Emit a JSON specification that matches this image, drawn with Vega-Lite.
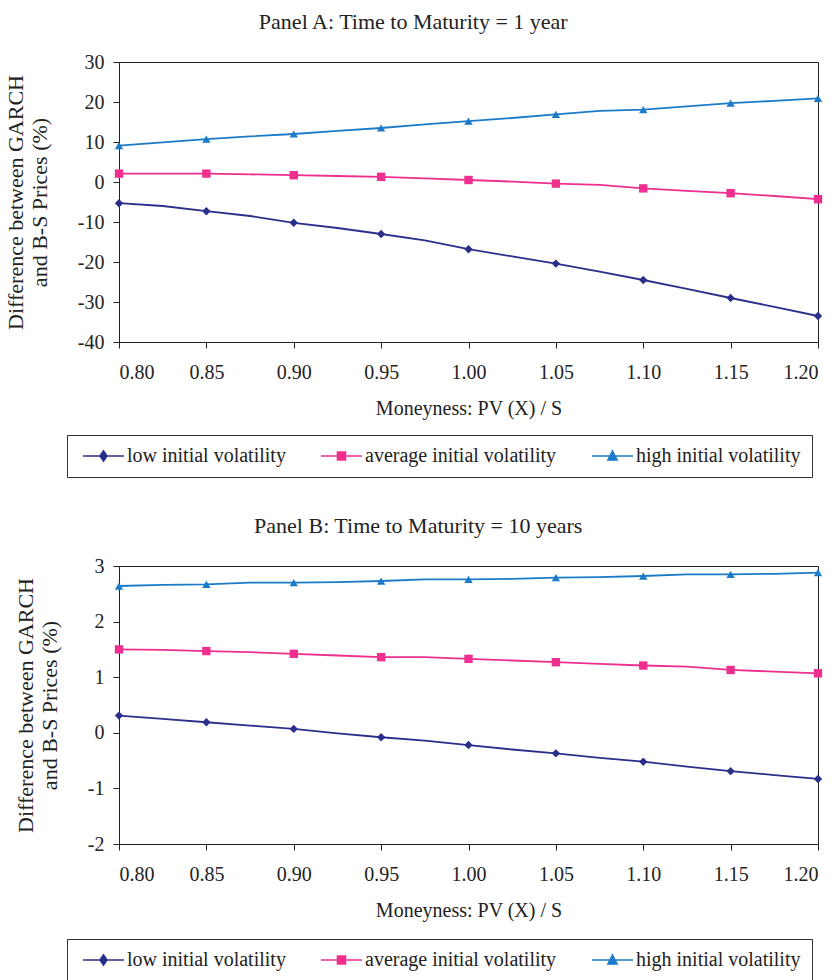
{
  "$schema": "https://vega.github.io/schema/vega-lite/v6.json",
  "background": "white",
  "padding": {"left": 3, "top": 10, "right": 0, "bottom": 0},
  "config": {
    "font": "Liberation Serif",
    "view": {"stroke": "#222", "strokeWidth": 1},
    "axis": {"grid": false, "domainColor": "#222", "tickColor": "#222", "tickSize": 6, "labelFont": "Liberation Serif", "labelFontSize": 20, "labelColor": "#222", "titleFont": "Liberation Serif", "titleFontSize": 20, "titleFontWeight": "normal", "titleColor": "#222", "labelExpr": "'' + datum.value"},
    "axisX": {"labelExpr": "format(datum.value, '.2f')"},
    "title": {"font": "Liberation Serif", "fontSize": 22, "fontWeight": "normal", "color": "#222", "anchor": "middle", "frame": "bounds", "offset": 18},
    "legend": {"title": null, "orient": "none", "direction": "horizontal", "legendX": -52, "legendY": 373, "strokeColor": "#333", "padding": 11, "labelFont": "Liberation Serif", "labelFontSize": 20, "labelColor": "#222", "labelLimit": 0, "labelOffset": 29, "columnPadding": 30, "symbolSize": 100, "symbolStrokeWidth": 1.6, "symbolOpacity": 1}
  },
  "datasets": {
    "A": [
      {"x": 0.8, "y": 9.1, "s": "high initial volatility"},
      {"x": 0.825, "y": 9.9, "s": "high initial volatility"},
      {"x": 0.85, "y": 10.7, "s": "high initial volatility"},
      {"x": 0.875, "y": 11.4, "s": "high initial volatility"},
      {"x": 0.9, "y": 12.0, "s": "high initial volatility"},
      {"x": 0.925, "y": 12.8, "s": "high initial volatility"},
      {"x": 0.95, "y": 13.5, "s": "high initial volatility"},
      {"x": 0.975, "y": 14.4, "s": "high initial volatility"},
      {"x": 1.0, "y": 15.2, "s": "high initial volatility"},
      {"x": 1.025, "y": 16.0, "s": "high initial volatility"},
      {"x": 1.05, "y": 16.9, "s": "high initial volatility"},
      {"x": 1.075, "y": 17.8, "s": "high initial volatility"},
      {"x": 1.1, "y": 18.1, "s": "high initial volatility"},
      {"x": 1.125, "y": 18.9, "s": "high initial volatility"},
      {"x": 1.15, "y": 19.7, "s": "high initial volatility"},
      {"x": 1.175, "y": 20.3, "s": "high initial volatility"},
      {"x": 1.2, "y": 20.9, "s": "high initial volatility"},
      {"x": 0.8, "y": 2.1, "s": "average initial volatility"},
      {"x": 0.825, "y": 2.1, "s": "average initial volatility"},
      {"x": 0.85, "y": 2.1, "s": "average initial volatility"},
      {"x": 0.875, "y": 1.9, "s": "average initial volatility"},
      {"x": 0.9, "y": 1.7, "s": "average initial volatility"},
      {"x": 0.925, "y": 1.5, "s": "average initial volatility"},
      {"x": 0.95, "y": 1.3, "s": "average initial volatility"},
      {"x": 0.975, "y": 0.9, "s": "average initial volatility"},
      {"x": 1.0, "y": 0.5, "s": "average initial volatility"},
      {"x": 1.025, "y": 0.1, "s": "average initial volatility"},
      {"x": 1.05, "y": -0.4, "s": "average initial volatility"},
      {"x": 1.075, "y": -0.7, "s": "average initial volatility"},
      {"x": 1.1, "y": -1.6, "s": "average initial volatility"},
      {"x": 1.125, "y": -2.2, "s": "average initial volatility"},
      {"x": 1.15, "y": -2.8, "s": "average initial volatility"},
      {"x": 1.175, "y": -3.5, "s": "average initial volatility"},
      {"x": 1.2, "y": -4.3, "s": "average initial volatility"},
      {"x": 0.8, "y": -5.3, "s": "low initial volatility"},
      {"x": 0.825, "y": -6.0, "s": "low initial volatility"},
      {"x": 0.85, "y": -7.3, "s": "low initial volatility"},
      {"x": 0.875, "y": -8.5, "s": "low initial volatility"},
      {"x": 0.9, "y": -10.2, "s": "low initial volatility"},
      {"x": 0.925, "y": -11.5, "s": "low initial volatility"},
      {"x": 0.95, "y": -13.0, "s": "low initial volatility"},
      {"x": 0.975, "y": -14.6, "s": "low initial volatility"},
      {"x": 1.0, "y": -16.8, "s": "low initial volatility"},
      {"x": 1.025, "y": -18.6, "s": "low initial volatility"},
      {"x": 1.05, "y": -20.4, "s": "low initial volatility"},
      {"x": 1.075, "y": -22.4, "s": "low initial volatility"},
      {"x": 1.1, "y": -24.5, "s": "low initial volatility"},
      {"x": 1.125, "y": -26.7, "s": "low initial volatility"},
      {"x": 1.15, "y": -29.0, "s": "low initial volatility"},
      {"x": 1.175, "y": -31.2, "s": "low initial volatility"},
      {"x": 1.2, "y": -33.5, "s": "low initial volatility"}
    ],
    "B": [
      {"x": 0.8, "y": 2.64, "s": "high initial volatility"},
      {"x": 0.825, "y": 2.66, "s": "high initial volatility"},
      {"x": 0.85, "y": 2.67, "s": "high initial volatility"},
      {"x": 0.875, "y": 2.70, "s": "high initial volatility"},
      {"x": 0.9, "y": 2.70, "s": "high initial volatility"},
      {"x": 0.925, "y": 2.71, "s": "high initial volatility"},
      {"x": 0.95, "y": 2.73, "s": "high initial volatility"},
      {"x": 0.975, "y": 2.76, "s": "high initial volatility"},
      {"x": 1.0, "y": 2.76, "s": "high initial volatility"},
      {"x": 1.025, "y": 2.77, "s": "high initial volatility"},
      {"x": 1.05, "y": 2.79, "s": "high initial volatility"},
      {"x": 1.075, "y": 2.80, "s": "high initial volatility"},
      {"x": 1.1, "y": 2.82, "s": "high initial volatility"},
      {"x": 1.125, "y": 2.85, "s": "high initial volatility"},
      {"x": 1.15, "y": 2.85, "s": "high initial volatility"},
      {"x": 1.175, "y": 2.86, "s": "high initial volatility"},
      {"x": 1.2, "y": 2.88, "s": "high initial volatility"},
      {"x": 0.8, "y": 1.50, "s": "average initial volatility"},
      {"x": 0.825, "y": 1.49, "s": "average initial volatility"},
      {"x": 0.85, "y": 1.47, "s": "average initial volatility"},
      {"x": 0.875, "y": 1.45, "s": "average initial volatility"},
      {"x": 0.9, "y": 1.42, "s": "average initial volatility"},
      {"x": 0.925, "y": 1.39, "s": "average initial volatility"},
      {"x": 0.95, "y": 1.36, "s": "average initial volatility"},
      {"x": 0.975, "y": 1.36, "s": "average initial volatility"},
      {"x": 1.0, "y": 1.33, "s": "average initial volatility"},
      {"x": 1.025, "y": 1.30, "s": "average initial volatility"},
      {"x": 1.05, "y": 1.27, "s": "average initial volatility"},
      {"x": 1.075, "y": 1.24, "s": "average initial volatility"},
      {"x": 1.1, "y": 1.21, "s": "average initial volatility"},
      {"x": 1.125, "y": 1.19, "s": "average initial volatility"},
      {"x": 1.15, "y": 1.13, "s": "average initial volatility"},
      {"x": 1.175, "y": 1.10, "s": "average initial volatility"},
      {"x": 1.2, "y": 1.07, "s": "average initial volatility"},
      {"x": 0.8, "y": 0.31, "s": "low initial volatility"},
      {"x": 0.825, "y": 0.25, "s": "low initial volatility"},
      {"x": 0.85, "y": 0.19, "s": "low initial volatility"},
      {"x": 0.875, "y": 0.13, "s": "low initial volatility"},
      {"x": 0.9, "y": 0.07, "s": "low initial volatility"},
      {"x": 0.925, "y": -0.01, "s": "low initial volatility"},
      {"x": 0.95, "y": -0.08, "s": "low initial volatility"},
      {"x": 0.975, "y": -0.14, "s": "low initial volatility"},
      {"x": 1.0, "y": -0.22, "s": "low initial volatility"},
      {"x": 1.025, "y": -0.30, "s": "low initial volatility"},
      {"x": 1.05, "y": -0.37, "s": "low initial volatility"},
      {"x": 1.075, "y": -0.45, "s": "low initial volatility"},
      {"x": 1.1, "y": -0.52, "s": "low initial volatility"},
      {"x": 1.125, "y": -0.61, "s": "low initial volatility"},
      {"x": 1.15, "y": -0.69, "s": "low initial volatility"},
      {"x": 1.175, "y": -0.76, "s": "low initial volatility"},
      {"x": 1.2, "y": -0.83, "s": "low initial volatility"}
    ]
  },
  "resolve": {"scale": {"color": "independent"}, "legend": {"color": "independent"}},
  "spacing": 36,
  "vconcat": [
    {
      "title": "Panel A: Time to Maturity = 1 year",
      "width": 699,
      "height": 280,
      "data": {"name": "A"},
      "encoding": {
        "x": {"field": "x", "type": "quantitative", "scale": {"domain": [0.8, 1.2], "nice": false, "zero": false}, "axis": {"values": [0.8, 0.85, 0.9, 0.95, 1.0, 1.05, 1.1, 1.15, 1.2], "labelPadding": 14, "titlePadding": 16, "title": "Moneyness: PV (X) / S"}},
        "y": {"field": "y", "type": "quantitative", "scale": {"domain": [-40, 30], "nice": false, "zero": false}, "axis": {"values": [-40, -30, -20, -10, 0, 10, 20, 30], "labelPadding": 9, "titlePadding": 26, "titleFontSize": 22, "titleLineHeight": 24, "title": ["Difference between GARCH", "and B-S Prices (%)"]}}
      },
      "layer": [
        {
          "mark": {"type": "line", "strokeWidth": 1.8},
          "encoding": {
            "color": {"field": "s", "type": "nominal", "scale": {"domain": ["low initial volatility", "average initial volatility", "high initial volatility"], "range": ["#2b2f8c", "#ee2f8f", "#1c7bc8"]},
              "legend": {
                "encode": {"symbols": {"update": {
                  "shape": {"signal": "datum.value === 'low initial volatility' ? 'M-1,0H7.2M3.1,-1L3.8,0L3.1,1L2.4,0Z' : datum.value === 'average initial volatility' ? 'M-1,0H7.2M2.3,-0.8H3.9V0.8H2.3Z' : 'M-1,0H7.2M3.1,-1L4,0.8H2.2Z'"},
                  "fill": {"signal": "datum.value === 'low initial volatility' ? '#2b2f8c' : datum.value === 'average initial volatility' ? '#ee2f8f' : '#1c7bc8'"},
                  "strokeWidth": {"value": 1.6}
                }}}
              }}
          }
        },
        {
          "transform": [{"filter": "datum.s === 'low initial volatility' && abs(datum.x*20 - round(datum.x*20)) < 0.01"}],
          "mark": {"type": "point", "shape": "diamond", "filled": true, "opacity": 1, "size": 70, "color": "#2b2f8c"}
        },
        {
          "transform": [{"filter": "datum.s === 'average initial volatility' && abs(datum.x*20 - round(datum.x*20)) < 0.01"}],
          "mark": {"type": "point", "shape": "square", "filled": true, "opacity": 1, "size": 70, "color": "#ee2f8f"}
        },
        {
          "transform": [{"filter": "datum.s === 'high initial volatility' && abs(datum.x*20 - round(datum.x*20)) < 0.01"}],
          "mark": {"type": "point", "shape": "triangle-up", "filled": true, "opacity": 1, "size": 70, "color": "#1c7bc8"}
        }
      ]
    },
    {
      "title": "Panel B: Time to Maturity = 10 years",
      "width": 699,
      "height": 278,
      "data": {"name": "B"},
      "encoding": {
        "x": {"field": "x", "type": "quantitative", "scale": {"domain": [0.8, 1.2], "nice": false, "zero": false}, "axis": {"values": [0.8, 0.85, 0.9, 0.95, 1.0, 1.05, 1.1, 1.15, 1.2], "labelPadding": 14, "titlePadding": 16, "title": "Moneyness: PV (X) / S"}},
        "y": {"field": "y", "type": "quantitative", "scale": {"domain": [-2, 3], "nice": false, "zero": false}, "axis": {"values": [-2, -1, 0, 1, 2, 3], "labelPadding": 9, "titlePadding": 26, "titleFontSize": 22, "titleLineHeight": 24, "title": ["Difference between GARCH", "and B-S Prices (%)"]}}
      },
      "layer": [
        {
          "mark": {"type": "line", "strokeWidth": 1.8},
          "encoding": {
            "color": {"field": "s", "type": "nominal", "scale": {"domain": ["low initial volatility", "average initial volatility", "high initial volatility"], "range": ["#2b2f8c", "#ee2f8f", "#1c7bc8"]},
              "legend": {
                "encode": {"symbols": {"update": {
                  "shape": {"signal": "datum.value === 'low initial volatility' ? 'M-1,0H7.2M3.1,-1L3.8,0L3.1,1L2.4,0Z' : datum.value === 'average initial volatility' ? 'M-1,0H7.2M2.3,-0.8H3.9V0.8H2.3Z' : 'M-1,0H7.2M3.1,-1L4,0.8H2.2Z'"},
                  "fill": {"signal": "datum.value === 'low initial volatility' ? '#2b2f8c' : datum.value === 'average initial volatility' ? '#ee2f8f' : '#1c7bc8'"},
                  "strokeWidth": {"value": 1.6}
                }}}
              }}
          }
        },
        {
          "transform": [{"filter": "datum.s === 'low initial volatility' && abs(datum.x*20 - round(datum.x*20)) < 0.01"}],
          "mark": {"type": "point", "shape": "diamond", "filled": true, "opacity": 1, "size": 70, "color": "#2b2f8c"}
        },
        {
          "transform": [{"filter": "datum.s === 'average initial volatility' && abs(datum.x*20 - round(datum.x*20)) < 0.01"}],
          "mark": {"type": "point", "shape": "square", "filled": true, "opacity": 1, "size": 70, "color": "#ee2f8f"}
        },
        {
          "transform": [{"filter": "datum.s === 'high initial volatility' && abs(datum.x*20 - round(datum.x*20)) < 0.01"}],
          "mark": {"type": "point", "shape": "triangle-up", "filled": true, "opacity": 1, "size": 70, "color": "#1c7bc8"}
        }
      ]
    }
  ]
}
